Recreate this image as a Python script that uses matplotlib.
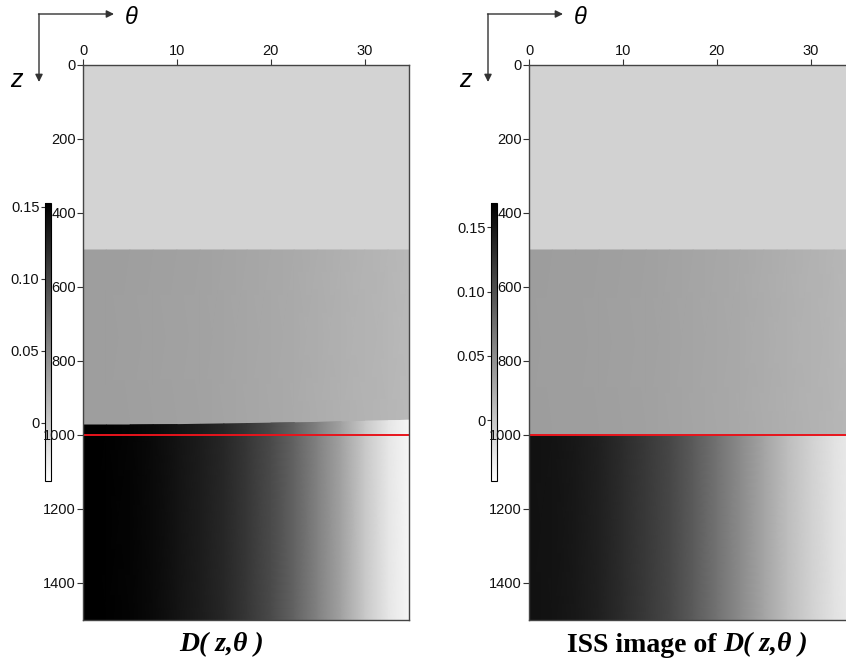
import numpy as np
import matplotlib
matplotlib.use("Agg")
import matplotlib.pyplot as plt

# Incidence-angle nodes (degrees) shared by every layer
theta = [0, 2.5, 5, 7.5, 10, 12.5, 15, 17.5, 20, 22.5, 25, 27.5, 30, 32.5, 35]

# Layer boundaries (depth)
z_top, z_mid, z_max = 0, 500, 1500
z_reflector = 1000

# D(z, theta): modelled field
d_top = -0.0067
d_mid = [0.0334, 0.0334, 0.0326, 0.0319, 0.0311, 0.0304, 0.0288, 0.0273,
         0.0258, 0.0243, 0.0220, 0.0198, 0.0175, 0.0152, 0.0130]
d_bot = [0.155, 0.1515, 0.1492, 0.1447, 0.1379, 0.1310, 0.1227, 0.1106,
         0.0962, 0.0773, 0.0546, 0.0304, 0.0016, -0.0211, -0.0347]
d_edge = [973, 973, 973, 972.5, 972, 971, 970, 969, 968, 967, 966, 964.5,
          963, 961.5, 960]
d_clim = (-0.0403, 0.1526)

# ISS image of D(z, theta)
iss_top = -0.0093
iss_mid = [0.0355, 0.0350, 0.0346, 0.0338, 0.0330, 0.0321, 0.0304, 0.0287,
           0.0270, 0.0253, 0.0228, 0.0203, 0.0177, 0.0152, 0.0127]
iss_bot = [0.1538, 0.1521, 0.1479, 0.1411, 0.1310, 0.1200, 0.1082, 0.0913,
           0.0718, 0.0507, 0.0296, 0.0085, -0.0085, -0.0228, -0.0321]
iss_edge = [1000] * len(theta)
iss_clim = (-0.0474, 0.1689)

cbar_ticks = [0, 0.05, 0.10, 0.15]
cbar_labels = ["0", "0.05", "0.10", "0.15"]
z_ticks = [0, 200, 400, 600, 800, 1000, 1200, 1400]
theta_ticks = [0, 10, 20, 30]

W, H = 846, 662
fig = plt.figure(figsize=(W / 100, H / 100), dpi=100)
tick_font = dict(family="Liberation Sans", size=10.5)


def layered_mesh(top, mid, bot, edge):
    th = np.asarray(theta, float)
    n = len(th)
    X = np.tile(th, (6, 1))
    Z = np.vstack([np.full(n, z_top), np.full(n, z_mid), np.full(n, z_mid),
                   np.asarray(edge, float), np.asarray(edge, float),
                   np.full(n, z_max)])
    C = np.vstack([np.full(n, top), np.full(n, top), np.asarray(mid),
                   np.asarray(mid), np.asarray(bot), np.asarray(bot)])
    return X, Z, C


def style_labels(labels):
    for lab in labels:
        lab.set_fontfamily(tick_font["family"])
        lab.set_fontsize(tick_font["size"])


def panel(left_px, cbar_px, top, mid, bot, edge, clim):
    ax = fig.add_axes([left_px / W, 1 - 620 / H, 326 / W, 555 / H])
    ax.set_zorder(3)
    X, Z, C = layered_mesh(top, mid, bot, edge)
    mesh = ax.pcolormesh(X, Z, C, shading="gouraud", cmap="gray_r",
                         vmin=clim[0], vmax=clim[1], rasterized=True)
    ax.axhline(z_reflector, color="#e8141c", lw=1.4)
    ax.set_xlim(0, 34.7)
    ax.set_ylim(z_max, 0)
    ax.xaxis.tick_top()
    ax.set_xticks(theta_ticks)
    ax.set_yticks(z_ticks)
    ax.tick_params(length=4, width=0.8, pad=1, color="#333333",
                   labelcolor="#111111")
    style_labels(ax.get_xticklabels() + ax.get_yticklabels())
    for s in ax.spines.values():
        s.set_color("#444444")
        s.set_linewidth(1.0)

    cax = fig.add_axes([cbar_px / W, 1 - 481 / H, 6 / W, 278 / H])
    cax.set_zorder(1)
    cb = fig.colorbar(mesh, cax=cax)
    cb.set_ticks(cbar_ticks)
    cb.set_ticklabels(cbar_labels)
    cax.yaxis.set_ticks_position("left")
    cax.tick_params(length=3, width=0.8, pad=1, color="#333333",
                    labelcolor="#111111")
    style_labels(cax.get_yticklabels())
    cb.outline.set_linewidth(0.8)
    return ax


panel(83, 45, d_top, d_mid, d_bot, d_edge, d_clim)
panel(529, 491, iss_top, iss_mid, iss_bot, iss_edge, iss_clim)

# Axis-orientation sketch in the upper-left of each panel
for x0 in (39, 488):
    arrow = dict(arrowstyle="-|>", color="#333333", lw=1.0,
                 mutation_scale=11, shrinkA=0, shrinkB=0)
    fig.add_artist(plt.Annotation("", xy=(x0 + 75, H - 14),
                                  xytext=(x0 - 0.5, H - 14),
                                  xycoords="figure pixels", arrowprops=arrow))
    fig.add_artist(plt.Annotation("", xy=(x0, H - 82), xytext=(x0, H - 14),
                                  xycoords="figure pixels", arrowprops=arrow))
    fig.text((x0 + 92) / W, 1 - 17 / H, "θ", fontsize=17, style="italic",
             family="Liberation Sans", ha="center", va="center")
    fig.text((x0 - 23) / W, 1 - 80 / H, "z", fontsize=18, style="italic",
             family="Liberation Sans", ha="center", va="center")

serif = dict(family="Liberation Serif", weight="bold", fontsize=20)
fig.text(222 / W, 1 - 645 / H, "D( z,θ )", style="italic", ha="center",
         va="center", **serif)
fig.text(723 / W, 1 - 645 / H, "ISS image of ", ha="right", va="center",
         **serif)
fig.text(723 / W, 1 - 645 / H, "D( z,θ )", style="italic", ha="left",
         va="center", **serif)

fig.savefig("out.png", dpi=100)
